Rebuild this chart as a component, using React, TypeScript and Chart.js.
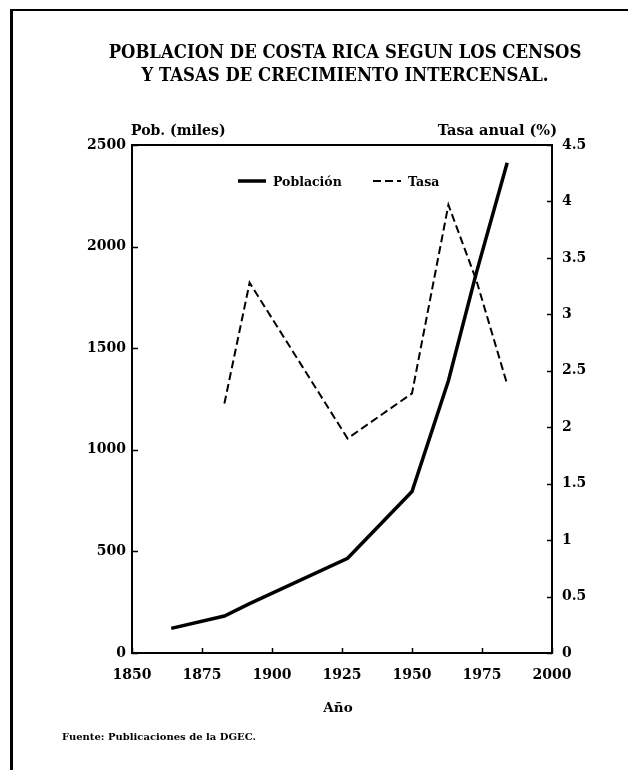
import React, { useEffect, useRef } from "react";
import { Chart, registerables } from "chart.js";

Chart.register(...registerables);

// ---- data ----
const censusYears = [1864, 1883, 1892, 1927, 1950, 1963, 1973, 1984];
const poblacion = [121, 182, 243, 466, 795, 1340, 1872, 2413];
const tasaYears = [1883, 1892, 1927, 1950, 1963, 1973, 1984];
const tasa = [2.21, 3.28, 1.9, 2.3, 3.97, 3.3, 2.38];
const yearTicks = [1850, 1875, 1900, 1925, 1950, 1975, 2000];
const pobTicks = [0, 500, 1000, 1500, 2000, 2500];
const tasaTicks = [0, 0.5, 1, 1.5, 2, 2.5, 3, 3.5, 4, 4.5];

const titleLines = [
  "POBLACION DE COSTA RICA SEGUN LOS CENSOS",
  "Y TASAS DE CRECIMIENTO INTERCENSAL.",
];
const leftAxisTitle = "Pob. (miles)";
const rightAxisTitle = "Tasa anual (%)";
const xAxisTitle = "Año";
const sourceNote = "Fuente: Publicaciones de la DGEC.";

const FONT = '"DejaVu Serif", "Liberation Serif", serif';

const framePlugin = {
  id: "frameTicks",
  afterDatasetsDraw(chart: any) {
    const { ctx, chartArea: a, scales } = chart;
    ctx.save();
    ctx.strokeStyle = "#000";
    ctx.lineWidth = 2;
    ctx.strokeRect(a.left, a.top, a.right - a.left, a.bottom - a.top);
    ctx.lineWidth = 1.5;
    ctx.beginPath();
    scales.y.ticks.forEach((t: any) => {
      const p = Math.round(scales.y.getPixelForValue(t.value)) + 0.5;
      ctx.moveTo(a.left, p);
      ctx.lineTo(a.left + 6, p);
    });
    scales.y1.ticks.forEach((t: any) => {
      const p = Math.round(scales.y1.getPixelForValue(t.value)) + 0.5;
      ctx.moveTo(a.right - 5, p);
      ctx.lineTo(a.right, p);
    });
    scales.x.ticks.forEach((t: any) => {
      const p = Math.round(scales.x.getPixelForValue(t.value)) + 0.5;
      ctx.moveTo(p, a.bottom);
      ctx.lineTo(p, a.bottom - 5);
    });
    ctx.stroke();
    ctx.restore();
  },
};

const insideLegend = {
  id: "insideLegend",
  afterDraw(chart: any) {
    const { ctx, chartArea: a } = chart;
    const ds = chart.data.datasets;
    const y = a.top + 37;
    const starts = [a.left + 106, a.left + 241];
    ctx.save();
    ctx.font = `bold 12.5px ${FONT}`;
    ctx.fillStyle = "#000";
    ctx.textBaseline = "middle";
    ds.forEach((d: any, i: number) => {
      const x = starts[i];
      ctx.beginPath();
      ctx.strokeStyle = d.borderColor;
      ctx.lineWidth = d.borderWidth;
      ctx.setLineDash(d.borderDash || []);
      ctx.moveTo(x, y - 1);
      ctx.lineTo(x + 28, y - 1);
      ctx.stroke();
      ctx.setLineDash([]);
      ctx.fillText(d.label, x + 35, y + 1);
    });
    ctx.restore();
  },
};

export default function App() {
  const ref = useRef<HTMLCanvasElement | null>(null);

  useEffect(() => {
    if (!ref.current) return;
    const tickFont = { family: FONT, size: 14, weight: "bold" as const };
    const chart = new Chart(ref.current, {
      type: "line",
      data: {
        datasets: [
          {
            label: "Población",
            data: censusYears.map((x, i) => ({ x, y: poblacion[i] })),
            borderColor: "#000",
            borderWidth: 3.5,
            pointRadius: 0,
            tension: 0,
            yAxisID: "y",
          },
          {
            label: "Tasa",
            data: tasaYears.map((x, i) => ({ x, y: tasa[i] })),
            borderColor: "#000",
            borderWidth: 2,
            borderDash: [8, 4],
            pointRadius: 0,
            tension: 0,
            yAxisID: "y1",
          },
        ],
      },
      options: {
        responsive: false,
        animation: false,
        events: [],
        layout: { padding: { top: 145, left: 0, right: 0, bottom: 0 } },
        plugins: { legend: { display: false }, tooltip: { enabled: false }, title: { display: false } },
        scales: {
          x: {
            type: "linear",
            min: 1850,
            max: 2000,
            afterBuildTicks: (s: any) => { s.ticks = yearTicks.map((v) => ({ value: v })); },
            afterFit: (s: any) => { s.height = 117; },
            ticks: { font: tickFont, color: "#000", padding: 14, maxRotation: 0, autoSkip: false, callback: (v: any) => String(v) },
            grid: { display: false, drawTicks: false },
            border: { display: false },
          },
          y: {
            position: "left",
            min: 0,
            max: 2500,
            afterBuildTicks: (s: any) => { s.ticks = pobTicks.map((v) => ({ value: v })); },
            afterFit: (s: any) => { s.width = 132; },
            ticks: { font: tickFont, color: "#000", padding: 6, callback: (v: any) => String(v) },
            grid: { display: false, drawTicks: false },
            border: { display: false },
          },
          y1: {
            position: "right",
            min: 0,
            max: 4.5,
            afterBuildTicks: (s: any) => { s.ticks = tasaTicks.map((v) => ({ value: v })); },
            afterFit: (s: any) => { s.width = 76; },
            ticks: { font: tickFont, color: "#000", padding: 10, callback: (v: any) => String(v) },
            grid: { display: false, drawTicks: false },
            border: { display: false },
          },
        },
      },
      plugins: [framePlugin, insideLegend],
    });
    return () => chart.destroy();
  }, []);

  const text = (extra: React.CSSProperties): React.CSSProperties => ({
    position: "absolute",
    fontFamily: FONT,
    fontWeight: "bold",
    color: "#000",
    whiteSpace: "nowrap",
    lineHeight: 1,
    ...extra,
  });

  return (
    <div style={{ position: "fixed", left: 0, top: 0, width: 628, height: 770, background: "#fff", overflow: "hidden" }}>
      <div style={{ position: "absolute", left: 10, top: 9, width: 700, height: 800, borderLeft: "3px solid #000", borderTop: "2px solid #000" }} />
      <canvas ref={ref} width={628} height={770} style={{ position: "absolute", left: 0, top: 0 }} />
      {titleLines.map((t, i) => (
        <div key={i} style={text({ left: 345, top: 53 + i * 23, fontSize: 16.5, transform: "translate(-50%, -50%) scaleY(1.12)" })}>{t}</div>
      ))}
      <div style={text({ left: 131, top: 130, fontSize: 14, transform: "translateY(-50%)" })}>{leftAxisTitle}</div>
      <div style={text({ left: 557, top: 130, fontSize: 14.5, transform: "translate(-100%, -50%)" })}>{rightAxisTitle}</div>
      <div style={text({ left: 338, top: 708, fontSize: 13.5, transform: "translate(-50%, -50%)" })}>{xAxisTitle}</div>
      <div style={text({ left: 62, top: 737, fontSize: 10, transform: "translateY(-50%)" })}>{sourceNote}</div>
    </div>
  );
}
